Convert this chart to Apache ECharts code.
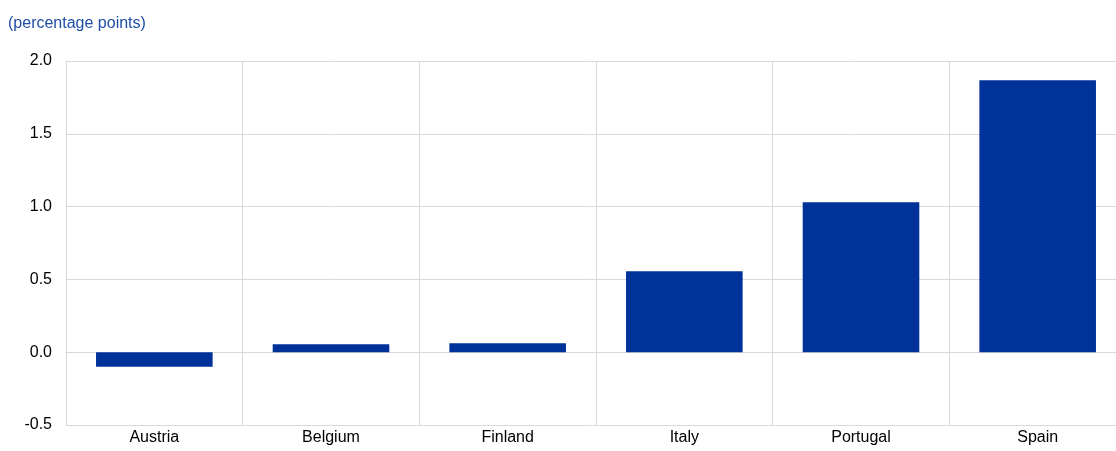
<!DOCTYPE html>
<html>
<head>
<meta charset="utf-8">
<script src="https://cdn.jsdelivr.net/npm/echarts@6/dist/echarts.min.js"></script>
<style>html,body{margin:0;padding:0;background:#fff;}#c{width:1116px;height:451px;}</style>
</head>
<body>
<div id="c"></div>
<script>
const categories = ['Austria', 'Belgium', 'Finland', 'Italy', 'Portugal', 'Spain'];
const values = [-0.10, 0.055, 0.062, 0.556, 1.03, 1.868];
const yTicks = { min: -0.5, max: 2.0, interval: 0.5 };

const FONT = 'Liberation Sans, Arial, sans-serif';
const chart = echarts.init(document.getElementById('c'), null, { renderer: 'canvas' });
chart.setOption({
  animation: false,
  backgroundColor: '#ffffff',
  textStyle: { fontFamily: FONT },
  title: {
    text: '(percentage points)',
    left: 3, top: 11,
    textStyle: { color: '#1f4ea8', fontSize: 16, fontWeight: 'normal', fontFamily: FONT }
  },
  grid: { left: 66, width: 1060, top: 61, bottom: 26, containLabel: false, outerBoundsMode: 'none' },
  xAxis: {
    type: 'category',
    data: categories,
    axisLine: { show: true, lineStyle: { color: '#d9d9d9', width: 1 } },
    axisTick: { show: false },
    splitLine: { show: true, lineStyle: { color: '#d9d9d9', width: 1 } },
    axisLabel: { color: '#000', fontSize: 16, margin: 5, fontFamily: FONT }
  },
  yAxis: {
    type: 'value',
    min: yTicks.min, max: yTicks.max, interval: yTicks.interval,
    axisLine: { show: true, lineStyle: { color: '#d9d9d9', width: 1 } },
    axisTick: { show: false },
    splitLine: { show: true, lineStyle: { color: '#d9d9d9', width: 1 } },
    axisLabel: { color: '#000', fontSize: 16, margin: 14, formatter: v => v.toFixed(1), fontFamily: FONT }
  },
  series: [{
    type: 'bar',
    data: values,
    barWidth: '66%',
    itemStyle: { color: '#003299' }
  }]
});
</script>
</body>
</html>
